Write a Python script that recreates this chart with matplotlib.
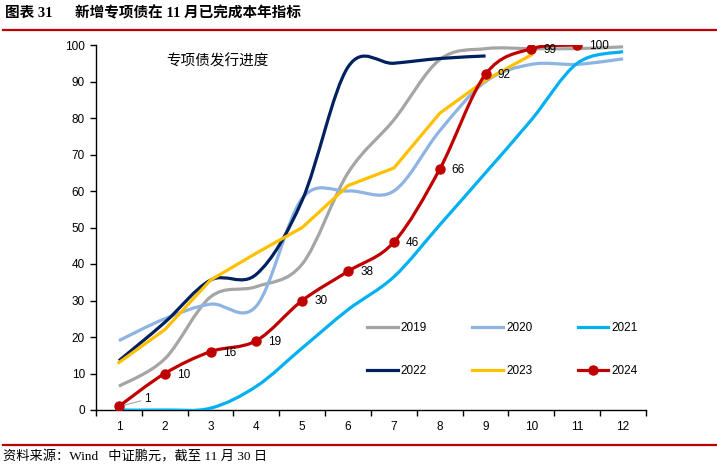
import numpy as np
import matplotlib
matplotlib.use("Agg")
import matplotlib.pyplot as plt
from matplotlib.path import Path
from matplotlib.patches import PathPatch
from matplotlib.lines import Line2D

months = list(range(1, 13))
month_labels = [str(m) for m in months]

s2019 = [6.5, 14, 31, 33.8, 40, 65, 79.5, 96, 99, 99, 99, 99.5]
s2020 = [19, 25, 29, 28.5, 58, 60, 60, 76.5, 90, 94.7, 94.7, 96.2]
s2021 = [0, 0, 0.5, 6.5, 17, 27.5, 36.5, 50.7, 65, 79.5, 95, 98.2]
s2022 = [13.5, 24, 35.6, 37.2, 57.5, 94.0, 95.0, 96.3, 97.0]
s2023 = [13, 22, 35.6, 43, 50, 61.5, 66.3, 81.3, 90.4, 97.3]
s2024 = [1, 10, 16, 19, 30, 38, 46, 66, 92, 99, 100]

series = [
    ("2019", s2019, "#A5A5A5", True, False),
    ("2020", s2020, "#8DB4E2", True, False),
    ("2021", s2021, "#00B0F0", True, False),
    ("2022", s2022, "#002060", True, False),
    ("2023", s2023, "#FFC000", False, False),
    ("2024", s2024, "#C00000", True, True),
]

W, H = 717, 470
fig = plt.figure(figsize=(W / 100, H / 100), dpi=100)
ax = fig.add_axes([96 / W, 60 / H, 550 / W, 365 / H])
ax.set_xlim(0.5, 12.5)
ax.set_ylim(0, 100)

LW = 2.3


def smooth_path(x, y):
    pts = np.column_stack([x, y]).astype(float)
    n = len(pts)
    verts = [pts[0]]
    codes = [Path.MOVETO]
    for i in range(n - 1):
        p0 = pts[i - 1] if i > 0 else pts[i]
        p1 = pts[i]
        p2 = pts[i + 1]
        p3 = pts[i + 2] if i + 2 < n else pts[i + 1]
        c1 = p1 + (p2 - p0) / 6.0
        c2 = p2 - (p3 - p1) / 6.0
        verts += [c1, c2, p2]
        codes += [Path.CURVE4] * 3
    return Path(verts, codes)


handles = {}
for name, vals, color, smooth, markers in series:
    xs = months[:len(vals)]
    if smooth:
        patch = PathPatch(smooth_path(xs, vals), facecolor="none", edgecolor=color,
                          lw=LW, capstyle="butt", joinstyle="round", zorder=3)
        ax.add_patch(patch)
    else:
        ax.plot(xs, vals, color=color, lw=LW, solid_joinstyle="round", zorder=3)
    if markers:
        ax.plot(xs, vals, linestyle="none", marker="o", ms=6.5, color=color, zorder=4)
        handles[name] = Line2D([], [], color=color, lw=LW, marker="o", ms=6.5)
    else:
        handles[name] = Line2D([], [], color=color, lw=LW)

# data labels for 2024
for i, v in enumerate(s2024):
    x = months[i]
    if i == 0:
        ax.annotate(str(v), xy=(x, v), xytext=(25, 7), textcoords="offset pixels",
                    ha="left", va="center", fontsize=8.5, family="Liberation Sans",
                    arrowprops=dict(arrowstyle="-", color="#A5A5A5", lw=0.8,
                                    shrinkA=0, shrinkB=3))
    else:
        ax.annotate(str(v), xy=(x, v), xytext=(12, -1), textcoords="offset pixels",
                    ha="left", va="center", fontsize=8.5, family="Liberation Sans")

for sp in ["top", "right"]:
    ax.spines[sp].set_visible(False)
for sp in ["left", "bottom"]:
    ax.spines[sp].set_linewidth(1.0)
    ax.spines[sp].set_color("black")

ax.set_yticks(range(0, 101, 10))
ax.set_xticks(np.arange(0.5, 12.6, 1.0))
ax.set_xticklabels([])
ax.set_xticks(months, minor=True)
ax.set_xticklabels(month_labels, minor=True)
ax.tick_params(axis="x", which="major", length=4, width=1, direction="out")
ax.tick_params(axis="x", which="minor", length=0, pad=8)
ax.tick_params(axis="y", length=4, width=1, direction="out", pad=4)
for lab in ax.get_xticklabels(minor=True) + ax.get_yticklabels():
    lab.set_family("Liberation Sans")
    lab.set_fontsize(8.5)

ax.text(0.22, 0.955, "专项债发行进度", transform=ax.transAxes,
        ha="center", va="center", fontsize=10.5, family=["Noto Sans CJK SC", "DejaVu Sans"])

order = ["2019", "2022", "2020", "2023", "2021", "2024"]
leg = ax.legend([handles[k] for k in order], order, ncol=3, frameon=False,
                loc="upper left", bbox_to_anchor=(367 / W, (H - 322) / H),
                bbox_transform=fig.transFigure, borderpad=0, borderaxespad=0,
                handlelength=2.6, handletextpad=0.25, columnspacing=3.85,
                labelspacing=2.6, prop={"family": "Liberation Sans", "size": 8.5})

# header & footer
fig.text(5 / W, (H - 13) / H, "图表 31", ha="left", va="center", fontsize=10.5,
         fontweight="bold", family=["Liberation Serif", "Noto Sans CJK SC"])
fig.text(75 / W, (H - 13) / H, "新增专项债在 11 月已完成本年指标", ha="left", va="center",
         fontsize=10.5, fontweight="bold", family=["Liberation Serif", "Noto Sans CJK SC"])
fig.add_artist(Line2D([3 / W, 1.0], [(H - 30) / H, (H - 30) / H], color="#C00000", lw=1.6,
                      transform=fig.transFigure))
fig.add_artist(Line2D([3 / W, 1.0], [(H - 445) / H, (H - 445) / H], color="#C00000", lw=1.6,
                      transform=fig.transFigure))
fig.text(3 / W, (H - 457) / H, "资料来源：Wind   中证鹏元，截至 11 月 30 日", ha="left", va="center",
         fontsize=9.5, family=["Liberation Serif", "Noto Sans CJK SC"])

fig.savefig("out.png", dpi=100)
